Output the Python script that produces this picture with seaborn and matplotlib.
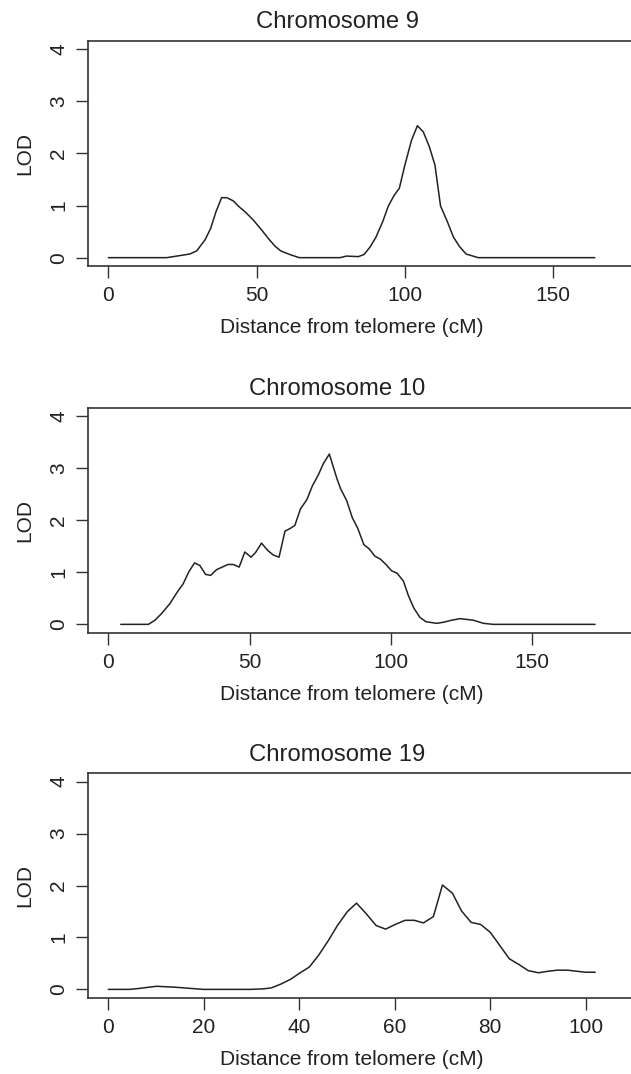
import numpy as np
import pandas as pd
import matplotlib
matplotlib.use("Agg")
import matplotlib.pyplot as plt
import seaborn as sns

# LOD scores, one pair of lists per chromosome
chr9_cm = [0, 19.7, 27.5, 29.8, 32.6, 34.5, 36.3, 38.2, 39.9, 42.1, 43.8, 46.1, 48.9,
           51.7, 54.2, 56.2, 58.1, 61.2, 64.4, 78.1, 80.3, 84.3, 86.2, 88.2, 90.2,
           92.5, 94.4, 96.3, 98.1, 100.0, 102.2, 104.2, 106.2, 108.2, 110.1, 112.0,
           114.3, 116.3, 118.3, 120.6, 124.7, 164.0]
chr9_lod = [0, 0, 0.07, 0.13, 0.34, 0.56, 0.88, 1.15, 1.15, 1.09, 0.99, 0.88, 0.72,
            0.53, 0.35, 0.22, 0.13, 0.06, 0, 0, 0.03, 0.02, 0.06, 0.20, 0.39,
            0.69, 0.99, 1.19, 1.33, 1.78, 2.25, 2.53, 2.41, 2.13, 1.78, 0.99,
            0.69, 0.40, 0.22, 0.07, 0, 0]

chr10_cm = [4.4, 14.2, 16.5, 18.9, 21.8, 24.4, 26.5, 28.5, 30.5, 32.4, 34.4, 36.2,
            38.3, 40.3, 42.3, 44.2, 46.3, 48.3, 50.5, 52.1, 54.2, 56.4, 58.4, 60.4,
            62.5, 64.3, 66.0, 68.0, 70.2, 72.2, 74.3, 76.1, 78.2, 80.8, 82.2, 84.3,
            86.3, 88.2, 90.4, 92.3, 94.3, 96.3, 98.2, 100.2, 102.2, 104.4, 106.1,
            108.1, 110.3, 112.4, 116.2, 118.5, 121.5, 124.4, 129.1, 132.7, 136.2, 172.2]
chr10_lod = [0, 0, 0.08, 0.21, 0.40, 0.62, 0.78, 1.01, 1.18, 1.13, 0.96, 0.94,
             1.05, 1.10, 1.15, 1.15, 1.10, 1.39, 1.29, 1.38, 1.56, 1.42, 1.33, 1.29,
             1.79, 1.84, 1.90, 2.22, 2.39, 2.66, 2.87, 3.09, 3.27, 2.81, 2.60, 2.38,
             2.05, 1.85, 1.53, 1.45, 1.31, 1.25, 1.15, 1.03, 0.98, 0.83, 0.56,
             0.31, 0.13, 0.05, 0.02, 0.04, 0.08, 0.11, 0.08, 0.02, 0, 0]

chr19_cm = [0, 4.5, 6.6, 10.1, 14.3, 17.1, 19.9, 29.7, 32.5, 34.2, 36.1, 38.1, 40.2,
            42.1, 44.0, 46.1, 48.0, 50.1, 52.0, 54.0, 56.1, 58.1, 60.1, 62.2, 64.1,
            66.0, 68.1, 70.0, 72.1, 74.0, 76.0, 78.0, 80.0, 81.9, 84.0, 86.0, 88.0,
            90.1, 92.2, 94.1, 96.2, 98.1, 100.0, 102.0]
chr19_lod = [0, 0, 0.02, 0.06, 0.04, 0.02, 0, 0, 0.01, 0.03, 0.10, 0.19, 0.32,
             0.43, 0.65, 0.94, 1.23, 1.50, 1.66, 1.46, 1.23, 1.16, 1.25, 1.33, 1.33,
             1.28, 1.40, 2.01, 1.85, 1.51, 1.29, 1.25, 1.10, 0.86, 0.59, 0.48, 0.36,
             0.32, 0.35, 0.37, 0.37, 0.35, 0.33, 0.33]

titles = ["Chromosome 9", "Chromosome 10", "Chromosome 19"]
x_ticks = [[0, 50, 100, 150], [0, 50, 100, 150], [0, 20, 40, 60, 80, 100]]
y_ticks = [0, 1, 2, 3, 4]

sns.set_style("ticks")
plt.rcParams["font.family"] = ["Liberation Sans", "DejaVu Sans"]

W, H = 631, 1074
fig = plt.figure(figsize=(W / 100, H / 100), dpi=100)

# panel boxes in pixels: (top, bottom); left edge shared, right runs off the page
boxes = [(40.7, 266.0), (407.7, 632.7), (773.3, 997.7)]
xlims = [(-6.74, 176.2), (-7.07, 184.9), (-4.19, 109.5)]
left = 88.3
ink = "#222222"

data = [(chr9_cm, chr9_lod), (chr10_cm, chr10_lod), (chr19_cm, chr19_lod)]

for i, (cm, lod) in enumerate(data):
    top, bot = boxes[i]
    ax = fig.add_axes([left / W, 1 - bot / H, (W - left) / W, (bot - top) / H])
    df = pd.DataFrame({"cM": cm, "LOD": lod})
    sns.lineplot(data=df, x="cM", y="LOD", ax=ax, color=ink, lw=1.1,
                 estimator=None, sort=False)
    ax.set_xlim(*xlims[i])
    ax.set_ylim(-0.16, 4.16)
    ax.set_xticks(x_ticks[i])
    ax.set_yticks(y_ticks)
    ax.set_xlabel("")
    ax.set_ylabel("")
    ax.spines["right"].set_visible(False)
    for s in ["left", "top", "bottom"]:
        ax.spines[s].set_linewidth(1.2)
        ax.spines[s].set_color("#333333")
    ax.tick_params(length=8.6, width=1.0, color="#333333", labelsize=15,
                   labelcolor=ink, pad=6)
    ax.tick_params(axis="y", labelrotation=90)
    for lbl in ax.get_yticklabels():
        lbl.set_va("center")

    fig.text(337 / W, 1 - (top - 12.7) / H, titles[i], ha="center",
             va="baseline", fontsize=17.2, color=ink)
    fig.text(352 / W, 1 - (bot + 67.3) / H, "Distance from telomere (cM)",
             ha="center", va="baseline", fontsize=15, color=ink)
    fig.text(25 / W, 1 - (top + bot) / 2 / H, "LOD", rotation=90,
             ha="center", va="center", fontsize=15, color=ink)

fig.savefig("out.png", dpi=100)
